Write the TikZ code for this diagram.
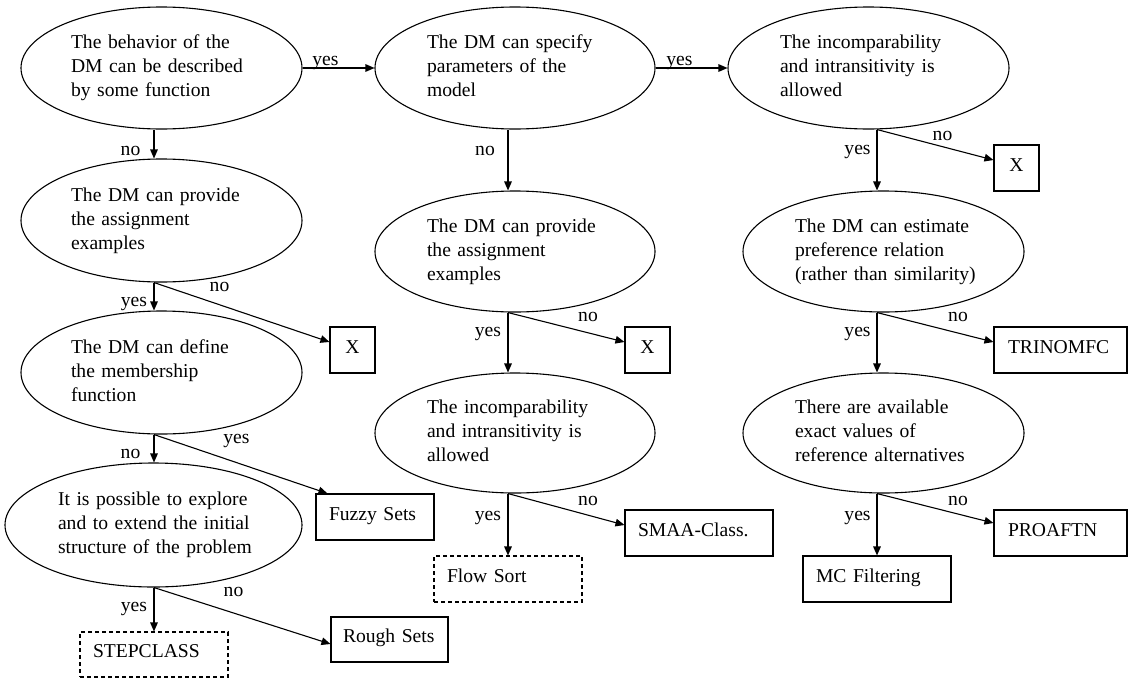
\documentclass[tikz,border=0pt]{standalone}
\usepackage{fontspec}
\setmainfont{Liberation Serif}
\usetikzlibrary{shapes.geometric,arrows.meta,calc}

\begin{document}
\begin{tikzpicture}[x=0.5pt,y=-0.5pt,
  every node/.style={font=\fontsize{9.8pt}{11.9pt}\selectfont},
  question/.style={draw, ellipse, line width=0.55pt, inner sep=0pt, align=left,
    minimum width=140.5pt, minimum height=61pt},
  answer/.style={draw, rectangle, line width=0.55pt, inner ysep=0pt, align=left,
    text height=6.5pt, text depth=3.5pt, minimum height=23pt},
  proposed/.style={answer, dash pattern=on 2pt off 1.5pt},
  nobox/.style={draw, rectangle, line width=0.55pt, inner sep=0pt,
    text height=6.5pt, text depth=3.5pt, minimum width=22.5pt, minimum height=23pt},
  arr/.style={line width=0.55pt, -{Triangle[length=4.5pt,width=3.8pt]}},
  lbl/.style={inner sep=0pt, anchor=base}
]
\useasboundingbox (0,0) rectangle (1128,680);

% ---- first column ----
\node[question, text width=90.5pt] (E1) at (161.5,68)
  {\strut The behavior of the\\ DM can be described\\ by some function\strut};
\node[question, text width=90.5pt, minimum height=61.5pt] (E2) at (161.5,220.5)
  {\strut The DM can provide\\ the assignment\\ examples\strut};
\node[question, text width=90.5pt, minimum height=61.5pt] (E3) at (161.5,372.5)
  {\strut The DM can define\\ the membership\\ function\strut};
\node[question, text width=95.5pt, minimum width=148.5pt, minimum height=62pt] (E4) at (153.5,525)
  {\mbox{\strut It is possible to explore}\\ \mbox{and to extend the initial}\\ \mbox{structure of the problem\strut}};

\node[nobox] (X1) at (352.5,350) {X};
\node[answer, inner xsep=6.5pt, text width=46pt] (Fuzzy) at (375,517) {Fuzzy Sets};
\node[answer, inner xsep=6pt, text width=46.5pt, minimum height=22.5pt] (Rough) at (389.5,639.5) {Rough Sets};
\node[proposed, inner xsep=6.5pt, text width=61pt, minimum height=22.5pt] (Step) at (154,654.5) {STEPCLASS};

% ---- second column ----
\node[question, text width=88pt, minimum width=140pt] (E5) at (515,68)
  {\strut The DM can specify\\ parameters of the\\ model\strut};
\node[question, text width=88pt, minimum width=140pt, minimum height=60.5pt] (E6) at (515,251.5)
  {\strut The DM can provide\\ the assignment\\ examples\strut};
\node[question, text width=88pt, minimum width=140pt, minimum height=60pt] (E7) at (515,433)
  {\strut The incomparability\\ and intransitivity is\\ allowed\strut};

\node[nobox] (X2) at (647.5,350) {X};
\node[answer, inner xsep=6.5pt, text width=61pt] (Smaa) at (699,533) {SMAA-Class.};
\node[proposed, inner xsep=6.5pt, text width=61pt] (Flow) at (508,579) {Flow Sort};

% ---- third column ----
\node[question, text width=88.5pt] (E9) at (868.5,68)
  {\strut The incomparability\\ and intransitivity is\\ allowed\strut};
\node[question, text width=88.5pt, minimum height=60.5pt] (E10) at (883.5,251.5)
  {\strut The DM can estimate\\ preference relation\\ \mbox{(rather than similarity)\strut}};
\node[question, text width=88.5pt, minimum height=60pt] (E11) at (883.5,433)
  {\strut There are available\\ exact values of\\ \mbox{reference alternatives\strut}};

\node[nobox] (X3) at (1016.5,168) {X};
\node[answer, inner xsep=7pt, text width=52.5pt] (Trin) at (1060.5,350) {TRINOMFC};
\node[answer, inner xsep=7pt, text width=52.5pt] (Proaftn) at (1060.5,533) {PROAFTN};
\node[answer, inner xsep=6.5pt, text width=61pt] (MC) at (877,579) {MC Filtering};

% ---- branch points under each question ----
\coordinate (b1) at ($(E1.south)+(-7.5,0)$);
\coordinate (b2) at ($(E2.south)+(-7.5,0)$);
\coordinate (b3) at ($(E3.south)+(-7.5,0)$);
\coordinate (b4) at ($(E4.south)+(0.5,0)$);
\coordinate (b5) at ($(E5.south)+(-7,0)$);
\coordinate (b6) at ($(E6.south)+(-7,0)$);
\coordinate (b7) at ($(E7.south)+(-7,0)$);
\coordinate (b9) at ($(E9.south)+(8.5,0)$);
\coordinate (b10) at ($(E10.south)+(-6.5,0)$);
\coordinate (b11) at ($(E11.south)+(-6.5,0)$);

% ---- connectors ----
\draw[arr] (E1.east) -- (E5.west);
\draw[arr] (E5.east) -- (E9.west);

\draw[arr] (b1) -- (b1 |- E2.north);
\draw[arr] (b2) -- (b2 |- E3.north);
\draw[arr] (b2) -- ($(X1.west)+(0,-8)$);
\draw[arr] (b3) -- (b3 |- E4.north);
\draw[arr] (b3) -- ($(Fuzzy.north west)+(12,0)$);
\draw[arr] (b4) -- (b4 |- Step.north);
\draw[arr] (b4) -- ($(Rough.west)+(0,4.5)$);

\draw[arr] (b5) -- (b5 |- E6.north);
\draw[arr] (b6) -- (b6 |- E7.north);
\draw[arr] (b6) -- ($(X2.west)+(0,-8)$);
\draw[arr] (b7) -- (b7 |- Flow.north);
\draw[arr] (b7) -- ($(Smaa.west)+(0,-8)$);

\draw[arr] (b9) -- (b9 |- E10.north);
\draw[arr] (b9) -- ($(X3.west)+(0,-8)$);
\draw[arr] (b10) -- (b10 |- E11.north);
\draw[arr] (b10) -- ($(Trin.west)+(0,-8)$);
\draw[arr] (b11) -- (b11 |- MC.north);
\draw[arr] (b11) -- ($(Proaftn.west)+(0,-10)$);

% ---- branch labels ----
\node[lbl] (l1) at (325.5,65) {yes};
\node[lbl] (l2) at (679.5,65) {yes};
\node[lbl] (l3) at (130.5,155) {no};
\node[lbl] (l4) at (485,155) {no};
\node[lbl] (l5) at (942.5,140) {no};
\node[lbl] (l6) at (857.5,154) {yes};
\node[lbl] (l7) at (219.5,291.5) {no};
\node[lbl] (l8) at (134,306) {yes};
\node[lbl] (l9) at (588,321.5) {no};
\node[lbl] (l10) at (488,336.5) {yes};
\node[lbl] (l11) at (958,321.5) {no};
\node[lbl] (l12) at (857.5,336.5) {yes};
\node[lbl] (l13) at (236.5,443) {yes};
\node[lbl] (l14) at (130.5,458) {no};
\node[lbl] (l15) at (233.5,596) {no};
\node[lbl] (l16) at (134,611.5) {yes};
\node[lbl] (l17) at (588,505) {no};
\node[lbl] (l18) at (488,520) {yes};
\node[lbl] (l19) at (958,505) {no};
\node[lbl] (l20) at (857.5,520) {yes};
\end{tikzpicture}
\end{document}
